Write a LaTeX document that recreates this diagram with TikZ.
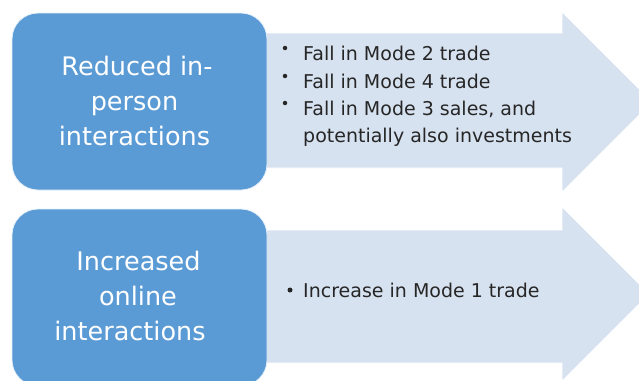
\documentclass[tikz,border=0pt]{standalone}
\usepackage{fontspec}
\setmainfont{DejaVu Sans}
\definecolor{boxblue}{RGB}{91,155,213}
\definecolor{arrowblue}{RGB}{215,226,240}
\definecolor{txtgray}{RGB}{38,38,38}
\begin{document}
\begin{tikzpicture}[x=1pt,y=-1pt,
  arrowshape/.style={fill=arrowblue,draw=white,line width=0.6pt},
  bluebox/.style={fill=boxblue,draw=white!85!boxblue,line width=0.8pt,rounded corners=26pt},
  boxtext/.style={anchor=base,inner sep=0pt,text=white,font=\fontsize{25.5}{35}\selectfont},
  itemtext/.style={anchor=base west,inner sep=0pt,text=txtgray,font=\fontsize{19}{27}\selectfont},
  bulletdot/.style={circle,fill=txtgray,inner sep=0pt,minimum size=#1}]
\useasboundingbox (0,0) rectangle (639,380);
\clip (0,0) rectangle (639,380);
% top arrow
\fill[arrowshape] (255,33) -- (562,33) -- (562,12) -- (652,102) -- (562,192) -- (562,168) -- (255,168) -- cycle;
% bottom arrow
\fill[arrowshape] (255,230) -- (562,230) -- (562,207) -- (649,294) -- (562,381) -- (562,363) -- (255,363) -- cycle;
% boxes
\path[bluebox] (12,13) rectangle (267,190);
\path[bluebox] (12,209) rectangle (267,386);
% top box text
\node[boxtext] (t1) at (137,75) {Reduced in-};
\node[boxtext] (t2) at (134.5,110) {person};
\node[boxtext] (t3) at (134.5,145) {interactions};
% bottom box text
\node[boxtext] (b1) at (138.5,270) {Increased};
\node[boxtext] (b2) at (138,305) {online};
\node[boxtext] (b3) at (130,340) {interactions};
% top list
\node[bulletdot=4.5pt] (d1) at (285,48) {};
\node[bulletdot=4.5pt] (d2) at (285,76) {};
\node[bulletdot=4.5pt] (d3) at (285,103) {};
\node[itemtext] (l1) at (303,60) {Fall in Mode 2 trade};
\node[itemtext] (l2) at (303,88) {Fall in Mode 4 trade};
\node[itemtext] (l3) at (303,115) {Fall in Mode 3 sales, and};
\node[itemtext] (l4) at (303,142) {potentially also investments};
% bottom list
\node[bulletdot=5pt] (d4) at (290,290) {};
\node[itemtext] (l5) at (303,297) {Increase in Mode 1 trade};
\end{tikzpicture}
\end{document}
